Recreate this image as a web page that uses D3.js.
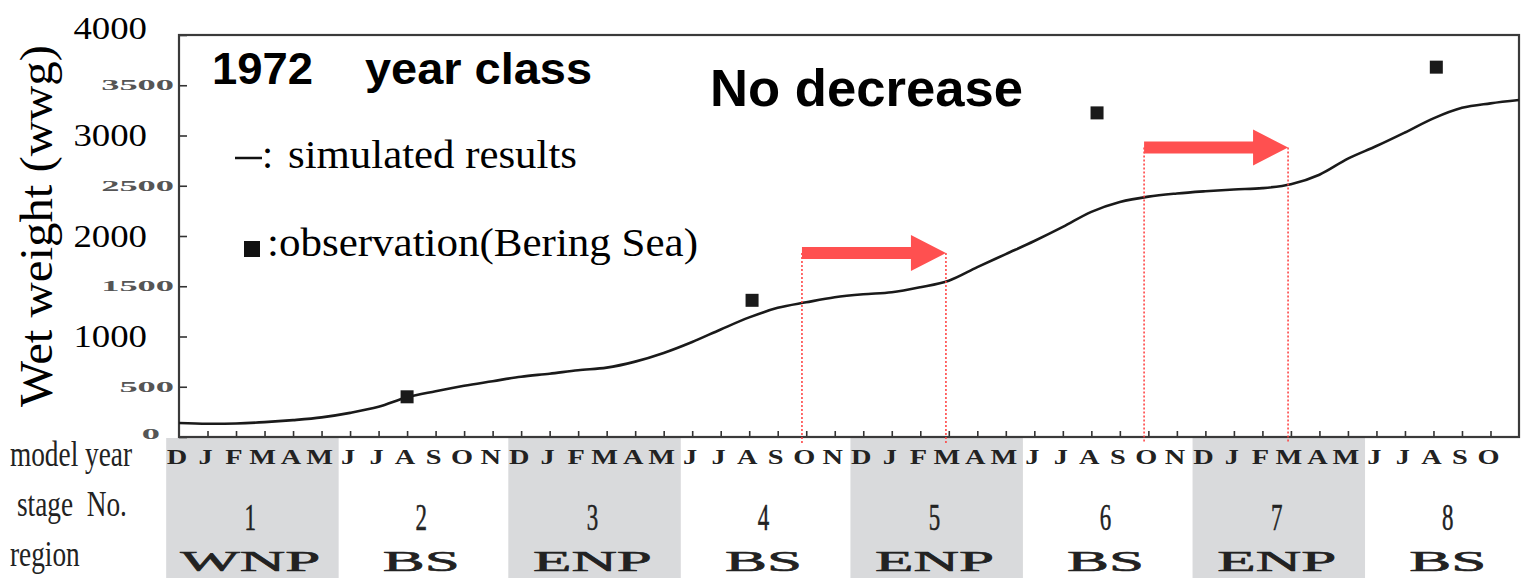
<!DOCTYPE html>
<html><head><meta charset="utf-8">
<script src="https://cdn.jsdelivr.net/npm/d3@7"></script>
<style>body{margin:0;background:#fff;} svg{display:block;}</style>
</head><body><svg id="c" width="1524" height="581"></svg>
<script>
// ---- data ----
const monthLabels = ["D","J","F","M","A","M","J","J","A","S","O","N",
                     "D","J","F","M","A","M","J","J","A","S","O","N",
                     "D","J","F","M","A","M","J","J","A","S","O","N",
                     "D","J","F","M","A","M","J","J","A","S","O"];
const stageNumbers = ["1","2","3","4","5","6","7","8"];
const regions = ["WNP","BS","ENP","BS","ENP","BS","ENP","BS"];
const shadedStages = [1,3,5,7];
const rowLabels = ["model year","stage\u00a0\u00a0No.","region"];
// simulated wet weight at each month index 0..47
const simValues = [140,132,135,148,168,195,240,300,395,455,510,555,
                   600,630,665,690,750,836,945,1070,1190,1285,1340,1390,
                   1420,1440,1490,1555,1690,1820,1950,2090,2240,2338,2392,2423,
                   2445,2463,2476,2515,2610,2770,2895,3030,3170,3275,3320,3353];
const obsMonth = [8, 20.1, 32.2, 44.1];
const obsValues = [400, 1360, 3225, 3680];
const yTicks = [0,500,1000,1500,2000,2500,3000,3500,4000];
const arrowFrom = [21.85, 33.85];
const arrowTo = [26.9, 38.9];
const arrowLevel = [1830, 2880];

// ---- layout ----
const svg = d3.select("#c");
const x = d3.scaleLinear().domain([0,47]).range([179,1519]);
const y = d3.scaleLinear().domain([0,4000]).range([437,35]);
const serif = "'Liberation Serif','Times New Roman',serif";
const sans = "'Liberation Sans',Arial,sans-serif";

// shaded stage boxes
svg.append("g").selectAll("rect").data(shadedStages).join("rect")
  .attr("x", s => x((s-1)*6 - 0.45))
  .attr("width", s => x((s-1)*6 + 5.6) - x((s-1)*6 - 0.45))
  .attr("y", 438).attr("height", 140)
  .attr("fill", "#d9dadc");

// axes ticks
const gy = svg.append("g").attr("transform","translate(179,0)")
  .call(d3.axisLeft(y).tickValues(yTicks).tickSize(-8).tickFormat(""));
gy.select(".domain").remove();
gy.selectAll("line").attr("stroke","#333").attr("stroke-width",1.6);

const gx = svg.append("g").attr("transform","translate(0,437)")
  .call(d3.axisBottom(x).tickValues(d3.range(1,47)).tickSize(-6).tickFormat(""));
gx.select(".domain").remove();
gx.selectAll("line").attr("stroke","#333").attr("stroke-width",1.6);

// frame
svg.append("rect").attr("x",179).attr("y",35).attr("width",1340).attr("height",402)
  .attr("fill","none").attr("stroke","#3a3a3a").attr("stroke-width",2.2);

// y labels
yTicks.forEach(v => {
  const big = v % 1000 === 0 && v > 0;
  const g = svg.append("g").attr("transform", `translate(${big?147:(v===0?160:174)},${y(v) + (v===4000?-7:(v===0?-3:0))})`);
  g.append("text").attr("text-anchor","end").attr("dy", big?"0.33em":"0.36em")
    .attr("transform", `scale(${big?1.15:2.6},1)`)
    .attr("font-family", serif).attr("font-size", big?32:14)
    .attr("font-weight", big?"normal":"bold")
    .attr("fill", big?"#000":"#555").text(v);
});

// y title
svg.append("text").attr("transform","translate(52,226) rotate(-90)")
  .attr("text-anchor","middle").attr("font-family",serif).attr("font-size",46)
  .attr("textLength",362).attr("lengthAdjust","spacingAndGlyphs")
  .text("Wet weight (wwg)");

// month labels
monthLabels.forEach((m,i) => {
  svg.append("g").attr("transform",`translate(${x(i)-2},464)`)
    .append("text").attr("text-anchor","middle").attr("transform","scale(1.35,1)")
    .attr("font-family",serif).attr("font-weight","bold").attr("font-size",21)
    .attr("fill","#222").text(m);
});

// stage numbers and regions
stageNumbers.forEach((s,i) => {
  svg.append("g").attr("transform",`translate(${x(i*6+2.5)},530)`)
    .append("text").attr("text-anchor","middle").attr("transform","scale(0.62,1)")
    .attr("font-family",serif).attr("font-size",37).attr("fill","#222")
    .attr("stroke","#222").attr("stroke-width",0.5).text(s);
  svg.append("g").attr("transform",`translate(${x(i*6+2.5)},571)`)
    .append("text").attr("text-anchor","middle").attr("transform","scale(2.1,1)")
    .attr("font-family",serif).attr("font-size",30).attr("fill","#222")
    .attr("stroke","#222").attr("stroke-width",0.6).text(regions[i]);
});

// row labels (condensed)
rowLabels.forEach((t,i) => {
  svg.append("g").attr("transform",`translate(${[10,17,10][i]},${466 + i*50})`)
    .append("text").attr("transform","scale(0.78,1)").attr("font-family",serif)
    .attr("font-size",35).attr("fill","#222").text(t);
});

// simulated curve
const line = d3.line().x((d,i)=>x(i)).y(d=>y(d)).curve(d3.curveCatmullRom.alpha(0.5));
svg.append("path").datum(simValues).attr("d",line)
  .attr("fill","none").attr("stroke","#1a1a1a").attr("stroke-width",2.6);

// observations
svg.append("g").selectAll("rect").data(obsValues).join("rect")
  .attr("x",(d,i)=>x(obsMonth[i])-6.5).attr("y",d=>y(d)-6.5)
  .attr("width",13).attr("height",13).attr("fill","#1a1a1a");

// arrows and dotted lines
arrowFrom.forEach((a,i) => {
  const xs = x(a), xe = x(arrowTo[i]), yc = y(arrowLevel[i]), xh = xe - 35;
  [xs, xe].forEach(xx => {
    svg.append("line").attr("x1",xx).attr("x2",xx).attr("y1",yc).attr("y2",443)
      .attr("stroke","#ff3b3b").attr("stroke-width",1.5).attr("stroke-dasharray","2,2");
  });
  svg.append("path")
    .attr("d",`M${xs},${yc-6}L${xh},${yc-6}L${xh},${yc-18}L${xe},${yc}L${xh},${yc+18}L${xh},${yc+6}L${xs},${yc+6}Z`)
    .attr("fill","#ff5050");
});

// titles
svg.append("text").attr("x",212).attr("y",84).attr("font-family",sans).attr("font-weight","bold")
  .attr("font-size",44).attr("textLength",101).attr("lengthAdjust","spacingAndGlyphs").text("1972");
svg.append("text").attr("x",365).attr("y",84).attr("font-family",sans).attr("font-weight","bold")
  .attr("font-size",44).attr("textLength",227).attr("lengthAdjust","spacingAndGlyphs").text("year class");
svg.append("text").attr("x",710).attr("y",106).attr("font-family",sans).attr("font-weight","bold")
  .attr("font-size",52).attr("textLength",313).attr("lengthAdjust","spacingAndGlyphs").text("No decrease");

// legend
svg.append("line").attr("x1",235).attr("x2",262).attr("y1",158).attr("y2",158)
  .attr("stroke","#111").attr("stroke-width",2.5);
svg.append("text").attr("x",262).attr("y",168).attr("font-family",serif).attr("font-size",40).text(":");
svg.append("text").attr("x",288).attr("y",168).attr("font-family",serif).attr("font-size",40)
  .attr("textLength",289).attr("lengthAdjust","spacingAndGlyphs").text("simulated results");
svg.append("rect").attr("x",244).attr("y",241).attr("width",16).attr("height",16).attr("fill","#111");
svg.append("text").attr("x",267).attr("y",256).attr("font-family",serif).attr("font-size",40)
  .attr("textLength",431).attr("lengthAdjust","spacingAndGlyphs").text(":observation(Bering Sea)");
</script>
</body></html>
